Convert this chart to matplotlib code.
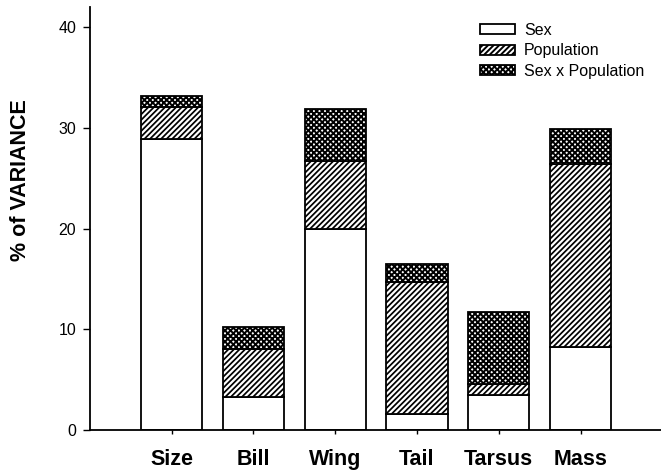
import matplotlib
matplotlib.use("Agg")
import matplotlib.pyplot as plt
import numpy as np

categories = ["Size", "Bill", "Wing", "Tail", "Tarsus", "Mass"]
sex = [28.9, 3.3, 19.95, 1.6, 3.5, 8.2]
population = [3.2, 4.7, 6.75, 13.05, 1.1, 18.2]
sex_x_pop = [1.1, 2.2, 5.2, 1.8, 7.1, 3.45]
series_labels = ["Sex", "Population", "Sex x Population"]

plt.rcParams['font.family'] = ['Liberation Sans', 'DejaVu Sans']

fig = plt.figure(figsize=(6.61, 4.71), dpi=100)
ax = fig.add_axes([0.136, 0.087, 0.866, 0.898])

x = np.arange(1, len(categories) + 1)
w = 0.75
sex_a = np.array(sex)
pop_a = np.array(population)
sxp_a = np.array(sex_x_pop)

plt.rcParams['hatch.linewidth'] = 1.0
b1 = ax.bar(x, sex_a, w, color="white", edgecolor="black", linewidth=1.3, label=series_labels[0])
plt.rcParams['hatch.linewidth'] = 1.25
b2 = ax.bar(x, pop_a, w, bottom=sex_a, color="white", edgecolor="black", hatch="//////",
            linewidth=1.3, label=series_labels[1])
plt.rcParams['hatch.linewidth'] = 1.4
b3 = ax.bar(x, sxp_a, w, bottom=sex_a + pop_a, color="white", edgecolor="black", hatch="xxxxxx",
            linewidth=1.3, label=series_labels[2])

ax.set_xlim(0, 7)
ax.set_ylim(0, 42)
ax.set_yticks([0, 10, 20, 30, 40])
ax.set_xticks(x)
ax.set_xticklabels(categories, fontsize=15.5, fontweight="bold")
ax.tick_params(axis="x", length=3, width=1, pad=11)
ax.tick_params(axis="y", length=5, width=1, labelsize=11.5, pad=5)
for s in ["top", "right"]:
    ax.spines[s].set_visible(False)
for s in ["left", "bottom"]:
    ax.spines[s].set_linewidth(1.3)
ax.set_ylabel("% of VARIANCE", fontsize=15.5, fontweight="bold")
ax.yaxis.set_label_coords(-0.103, 0.59)

leg = ax.legend(loc="upper left", bbox_to_anchor=(0.682, 0.963), frameon=False, fontsize=11.5,
                handlelength=2.2, handleheight=0.6, handletextpad=0.55, labelspacing=0.35,
                borderpad=0, borderaxespad=0)

fig.savefig("out.png", dpi=100)
